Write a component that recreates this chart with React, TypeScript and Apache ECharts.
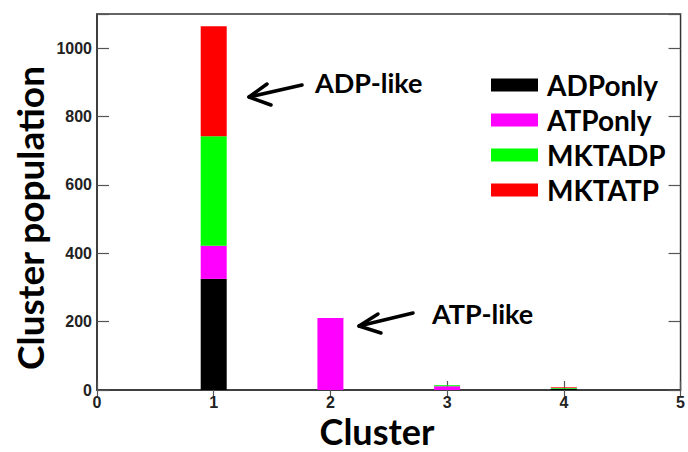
import React, { useEffect, useRef } from "react";
import * as echarts from "echarts";

const xTicks = ["0", "1", "2", "3", "4", "5"];
const seriesNames = ["ADPonly", "ATPonly", "MKTADP", "MKTATP"];
const colors = ["#000000", "#ff00ff", "#00ff00", "#ff0000"];
// values per x tick position 0..5 (clusters 1..4 have bars)
const adpOnly = [0, 325, 0, 0, 4, 0];
const atpOnly = [0, 97, 211, 11, 0, 0];
const mktAdp = [0, 320, 0, 3, 2, 0];
const mktAtp = [0, 322, 0, 0, 2, 0];
const yTicks = [0, 200, 400, 600, 800, 1000];

const values = [adpOnly, atpOnly, mktAdp, mktAtp];
const FONT = "Lato, 'Open Sans', sans-serif";

export default function App() {
  const ref = useRef<HTMLDivElement>(null);
  useEffect(() => {
    if (!ref.current) return;
    const chart = echarts.init(ref.current, undefined, { renderer: "svg" });
    const tickLabel = { fontFamily: "'Liberation Sans', Arial, sans-serif", fontWeight: "bold", fontSize: 16, color: "#222" };
    const option: any = {
      animation: false,
      backgroundColor: "#ffffff",
      grid: { left: 97, right: 3, top: 14, bottom: 62, show: true, borderColor: "#333", borderWidth: 1.5, backgroundColor: "transparent" },
      xAxis: [
        {
          type: "category", data: xTicks, boundaryGap: false,
          axisLine: { show: true, lineStyle: { color: "#333", width: 1.5 } },
          axisTick: { show: true, inside: true, length: 9, lineStyle: { color: "#555", width: 1.2 } },
          axisLabel: { ...tickLabel, margin: 4 },
          splitLine: { show: false },
        },
        {
          type: "category", data: xTicks, boundaryGap: false, position: "top",
          axisLine: { show: false },
          axisTick: { show: true, inside: true, length: 6, lineStyle: { color: "#555", width: 1.2 } },
          axisLabel: { show: false }, splitLine: { show: false },
        },
      ],
      yAxis: [
        {
          type: "value", min: 0, max: 1100, interval: 200,
          axisLine: { show: true, lineStyle: { color: "#333", width: 1.5 } },
          axisTick: { show: true, inside: true, length: 12, lineStyle: { color: "#555", width: 1.2 } },
          axisLabel: {
            ...tickLabel, margin: 5,
            formatter: (v: number) => (yTicks.includes(v) ? String(v) : ""),
          },
          splitLine: { show: false },
        },
        {
          type: "value", position: "right", min: 0, max: 1100, interval: 200,
          axisLine: { show: false },
          axisTick: { show: true, inside: true, length: 12, lineStyle: { color: "#555", width: 1.2 } },
          axisLabel: { show: false }, splitLine: { show: false },
        },
      ],
      legend: {
        show: true, orient: "vertical", left: 486, top: 65, itemWidth: 47, itemHeight: 13, itemGap: 5,
        icon: "rect",
        textStyle: { fontFamily: FONT, fontWeight: "bold", fontSize: 28, lineHeight: 30, color: "#000", padding: [0, 0, 0, 4] },
        data: seriesNames,
      },
      series: seriesNames.map((name, i) => ({
        name, type: "bar", stack: "total", barWidth: 26,
        xAxisIndex: 0, yAxisIndex: 0,
        itemStyle: { color: colors[i] },
        data: values[i],
      })),
      graphic: [
        { type: "text", x: 29, y: 218, rotation: Math.PI / 2, style: { text: "Cluster population", font: `bold 37px ${FONT}`, fill: "#000", align: "center", verticalAlign: "middle" } },
        { type: "text", x: 377, y: 431, style: { text: "Cluster", font: `bold 36px ${FONT}`, fill: "#000", align: "center", verticalAlign: "middle" } },
        { type: "text", x: 315, y: 82, style: { text: "ADP-like", font: `bold 27px ${FONT}`, fill: "#000", verticalAlign: "middle" } },
        { type: "line", shape: { x1: 302, y1: 85, x2: 249, y2: 97 }, style: { stroke: "#000", lineWidth: 3.5, lineCap: "round" } },
        { type: "polyline", shape: { points: [[267, 84], [249, 97], [271, 105]] }, style: { stroke: "#000", lineWidth: 3.5, fill: "none", lineCap: "round", lineJoin: "round" } },
        { type: "text", x: 432, y: 313, style: { text: "ATP-like", font: `bold 27px ${FONT}`, fill: "#000", verticalAlign: "middle" } },
        { type: "line", shape: { x1: 413, y1: 313, x2: 359, y2: 326 }, style: { stroke: "#000", lineWidth: 3.5, lineCap: "round" } },
        { type: "polyline", shape: { points: [[378, 314], [359, 326], [381, 333]] }, style: { stroke: "#000", lineWidth: 3.5, fill: "none", lineCap: "round", lineJoin: "round" } },
      ],
    };
    chart.setOption(option);
    return () => chart.dispose();
  }, []);
  return <div ref={ref} style={{ width: 688, height: 452, position: "absolute", left: 0, top: 0 }} />;
}
